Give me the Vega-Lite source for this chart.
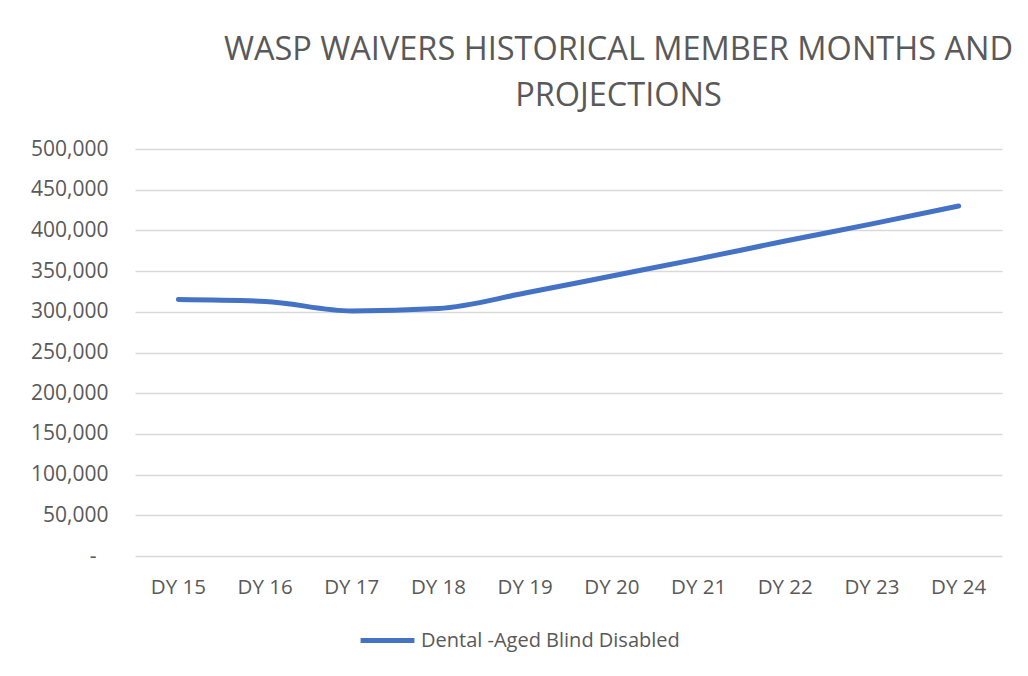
{
  "$schema": "https://vega.github.io/schema/vega-lite/v6.json",
  "width": 867,
  "height": 407,
  "autosize": {"type": "none"},
  "padding": {"left": 135, "top": 149, "right": 26, "bottom": 120},
  "background": "white",
  "title": {
    "text": ["WASP WAIVERS HISTORICAL MEMBER MONTHS AND", "PROJECTIONS"],
    "font": "Open Sans",
    "fontSize": 32.5,
    "fontWeight": "normal",
    "color": "#595959",
    "anchor": "middle",
    "dx": 50,
    "lineHeight": 46,
    "offset": 26
  },
  "data": {
    "values": [
      {"year": "DY 15", "series": "Dental -Aged Blind Disabled", "value": 315000},
      {"year": "DY 16", "series": "Dental -Aged Blind Disabled", "value": 312700},
      {"year": "DY 17", "series": "Dental -Aged Blind Disabled", "value": 301000},
      {"year": "DY 18", "series": "Dental -Aged Blind Disabled", "value": 304000},
      {"year": "DY 19", "series": "Dental -Aged Blind Disabled", "value": 323000},
      {"year": "DY 20", "series": "Dental -Aged Blind Disabled", "value": 344000},
      {"year": "DY 21", "series": "Dental -Aged Blind Disabled", "value": 365000},
      {"year": "DY 22", "series": "Dental -Aged Blind Disabled", "value": 387000},
      {"year": "DY 23", "series": "Dental -Aged Blind Disabled", "value": 408000},
      {"year": "DY 24", "series": "Dental -Aged Blind Disabled", "value": 430000}
    ]
  },
  "mark": {"type": "line", "strokeWidth": 5, "interpolate": "monotone", "strokeCap": "round", "strokeJoin": "round"},
  "encoding": {
    "x": {
      "field": "year",
      "type": "ordinal",
      "scale": {"type": "band", "paddingInner": 0, "paddingOuter": 0},
      "axis": {
        "title": null,
        "labelAngle": 0,
        "labelFont": "Open Sans",
        "labelFontSize": 20.5,
        "labelColor": "#595959",
        "labelPadding": 21,
        "ticks": false,
        "domain": false,
        "grid": false
      }
    },
    "y": {
      "field": "value",
      "type": "quantitative",
      "scale": {"domain": [0, 500000], "nice": false},
      "axis": {
        "title": null,
        "values": [0, 50000, 100000, 150000, 200000, 250000, 300000, 350000, 400000, 450000, 500000],
        "labelExpr": "datum.value == 0 ? '-' : format(datum.value, ',')",
        "labelFont": "Open Sans",
        "labelFontSize": 21,
        "labelColor": "#595959",
        "labelPadding": {"condition": {"test": "datum.value == 0", "value": 39}, "value": 27},
        "ticks": false,
        "domain": false,
        "grid": true,
        "gridColor": "#d9d9d9",
        "gridWidth": 1.5
      }
    },
    "color": {
      "field": "series",
      "type": "nominal",
      "scale": {"range": ["#4472C4"]},
      "legend": {
        "title": null,
        "orient": "none",
        "legendX": 223,
        "legendY": 462,
        "symbolType": "stroke",
        "symbolSize": 2900,
        "symbolStrokeWidth": 5,
        "labelFont": "Open Sans",
        "labelFontSize": 20,
        "labelLimit": 500,
        "labelColor": "#595959",
        "labelOffset": 4
      }
    }
  },
  "config": {"view": {"stroke": null}}
}
